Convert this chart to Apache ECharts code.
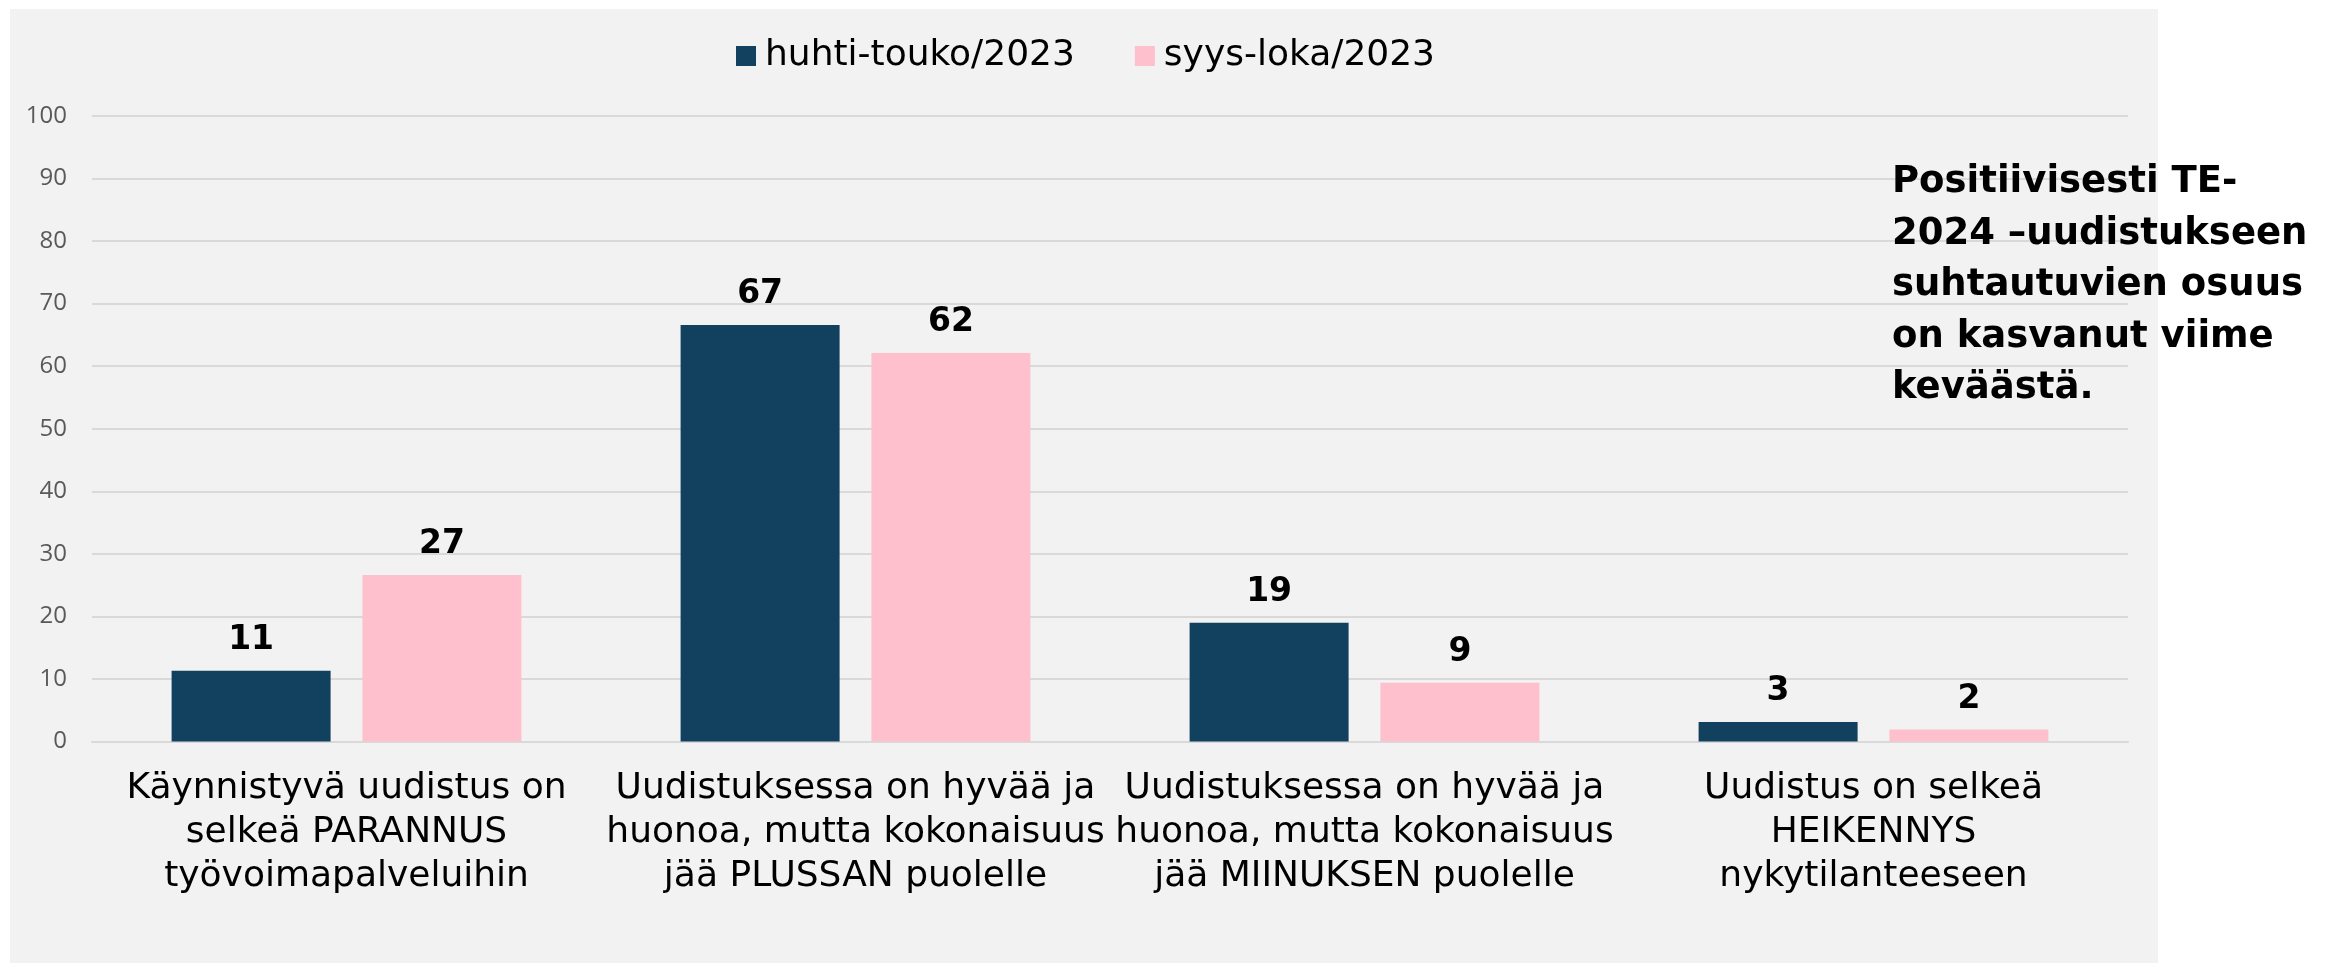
<!DOCTYPE html>
<html>
<head>
<meta charset="utf-8">
<script src="https://cdn.jsdelivr.net/npm/echarts@6/dist/echarts.min.js"></script>
<style>
  html, body { margin: 0; padding: 0; background: #fff; }
  #chart { width: 2325px; height: 973px; }
</style>
</head>
<body>
<div id="chart"></div>
<script>
const categories = [
  'Käynnistyvä uudistus on\nselkeä PARANNUS\ntyövoimapalveluihin',
  'Uudistuksessa on hyvää ja\nhuonoa, mutta kokonaisuus\njää PLUSSAN puolelle',
  'Uudistuksessa on hyvää ja\nhuonoa, mutta kokonaisuus\njää MIINUKSEN puolelle',
  'Uudistus on selkeä\nHEIKENNYS\nnykytilanteeseen'
];
const seriesNames = ['huhti-touko/2023', 'syys-loka/2023'];
const springValues = [11.3, 66.6, 19.0, 3.1];
const autumnValues = [26.6, 62.1, 9.4, 1.9];
const yTicks = { min: 0, max: 100, interval: 10 };
const noteText = 'Positiivisesti TE-\n2024 –uudistukseen\nsuhtautuvien osuus\non kasvanut viime\nkeväästä.';

const textFont = '"DejaVu Sans", sans-serif';
const tickFont = '"Open Sans", sans-serif';
const boldFont = '"DejaVu Sans", sans-serif';

const chart = echarts.init(document.getElementById('chart'));

const labelOpt = {
  show: true,
  position: 'top',
  distance: 14,
  color: '#000',
  fontFamily: boldFont,
  fontWeight: 'bold',
  fontSize: 33,
  formatter: p => Math.round(p.value)
};

const option = {
  backgroundColor: '#ffffff',
  animation: false,
  graphic: [
    {
      type: 'rect',
      z: -10,
      shape: { x: 10, y: 9, width: 2148, height: 954 },
      style: { fill: '#F2F2F2' }
    },
    {
      type: 'text',
      z: 10,
      left: 1892,
      top: 157,
      style: {
        text: noteText,
        fill: '#000',
        font: 'bold 37px ' + boldFont,
        lineHeight: 51.5
      }
    }
  ],
  legend: {
    data: seriesNames,
    left: 731,
    top: 33,
    icon: 'rect',
    itemWidth: 20,
    itemHeight: 20,
    itemGap: 60,
    textStyle: {
      color: '#000',
      fontFamily: textFont,
      fontSize: 36,
      padding: [0, 0, 0, 4]
    }
  },
  grid: {
    left: 92,
    right: 197,
    top: 116,
    bottom: 231.5,
    containLabel: false
  },
  xAxis: {
    type: 'category',
    data: categories,
    axisLine: { lineStyle: { color: '#D9D9D9', width: 2 } },
    axisTick: { show: false },
    axisLabel: {
      interval: 0,
      color: '#000',
      fontFamily: textFont,
      fontSize: 36,
      lineHeight: 44,
      margin: 25
    }
  },
  yAxis: {
    type: 'value',
    min: yTicks.min,
    max: yTicks.max,
    interval: yTicks.interval,
    axisLine: { show: false },
    axisTick: { show: false },
    splitLine: { lineStyle: { color: '#D9D9D9', width: 2 } },
    axisLabel: {
      color: '#595959',
      fontFamily: tickFont,
      fontSize: 24,
      margin: 25
    }
  },
  series: [
    {
      name: seriesNames[0],
      type: 'bar',
      data: springValues,
      barWidth: 159,
      barGap: '20%',
      itemStyle: { color: '#12415F' },
      label: labelOpt
    },
    {
      name: seriesNames[1],
      type: 'bar',
      data: autumnValues,
      barWidth: 159,
      barGap: '20%',
      itemStyle: { color: '#FFC0CE' },
      label: labelOpt
    }
  ]
};

chart.setOption(option);
window.addEventListener('resize', () => {
  chart.resize();
});
</script>
</body>
</html>
